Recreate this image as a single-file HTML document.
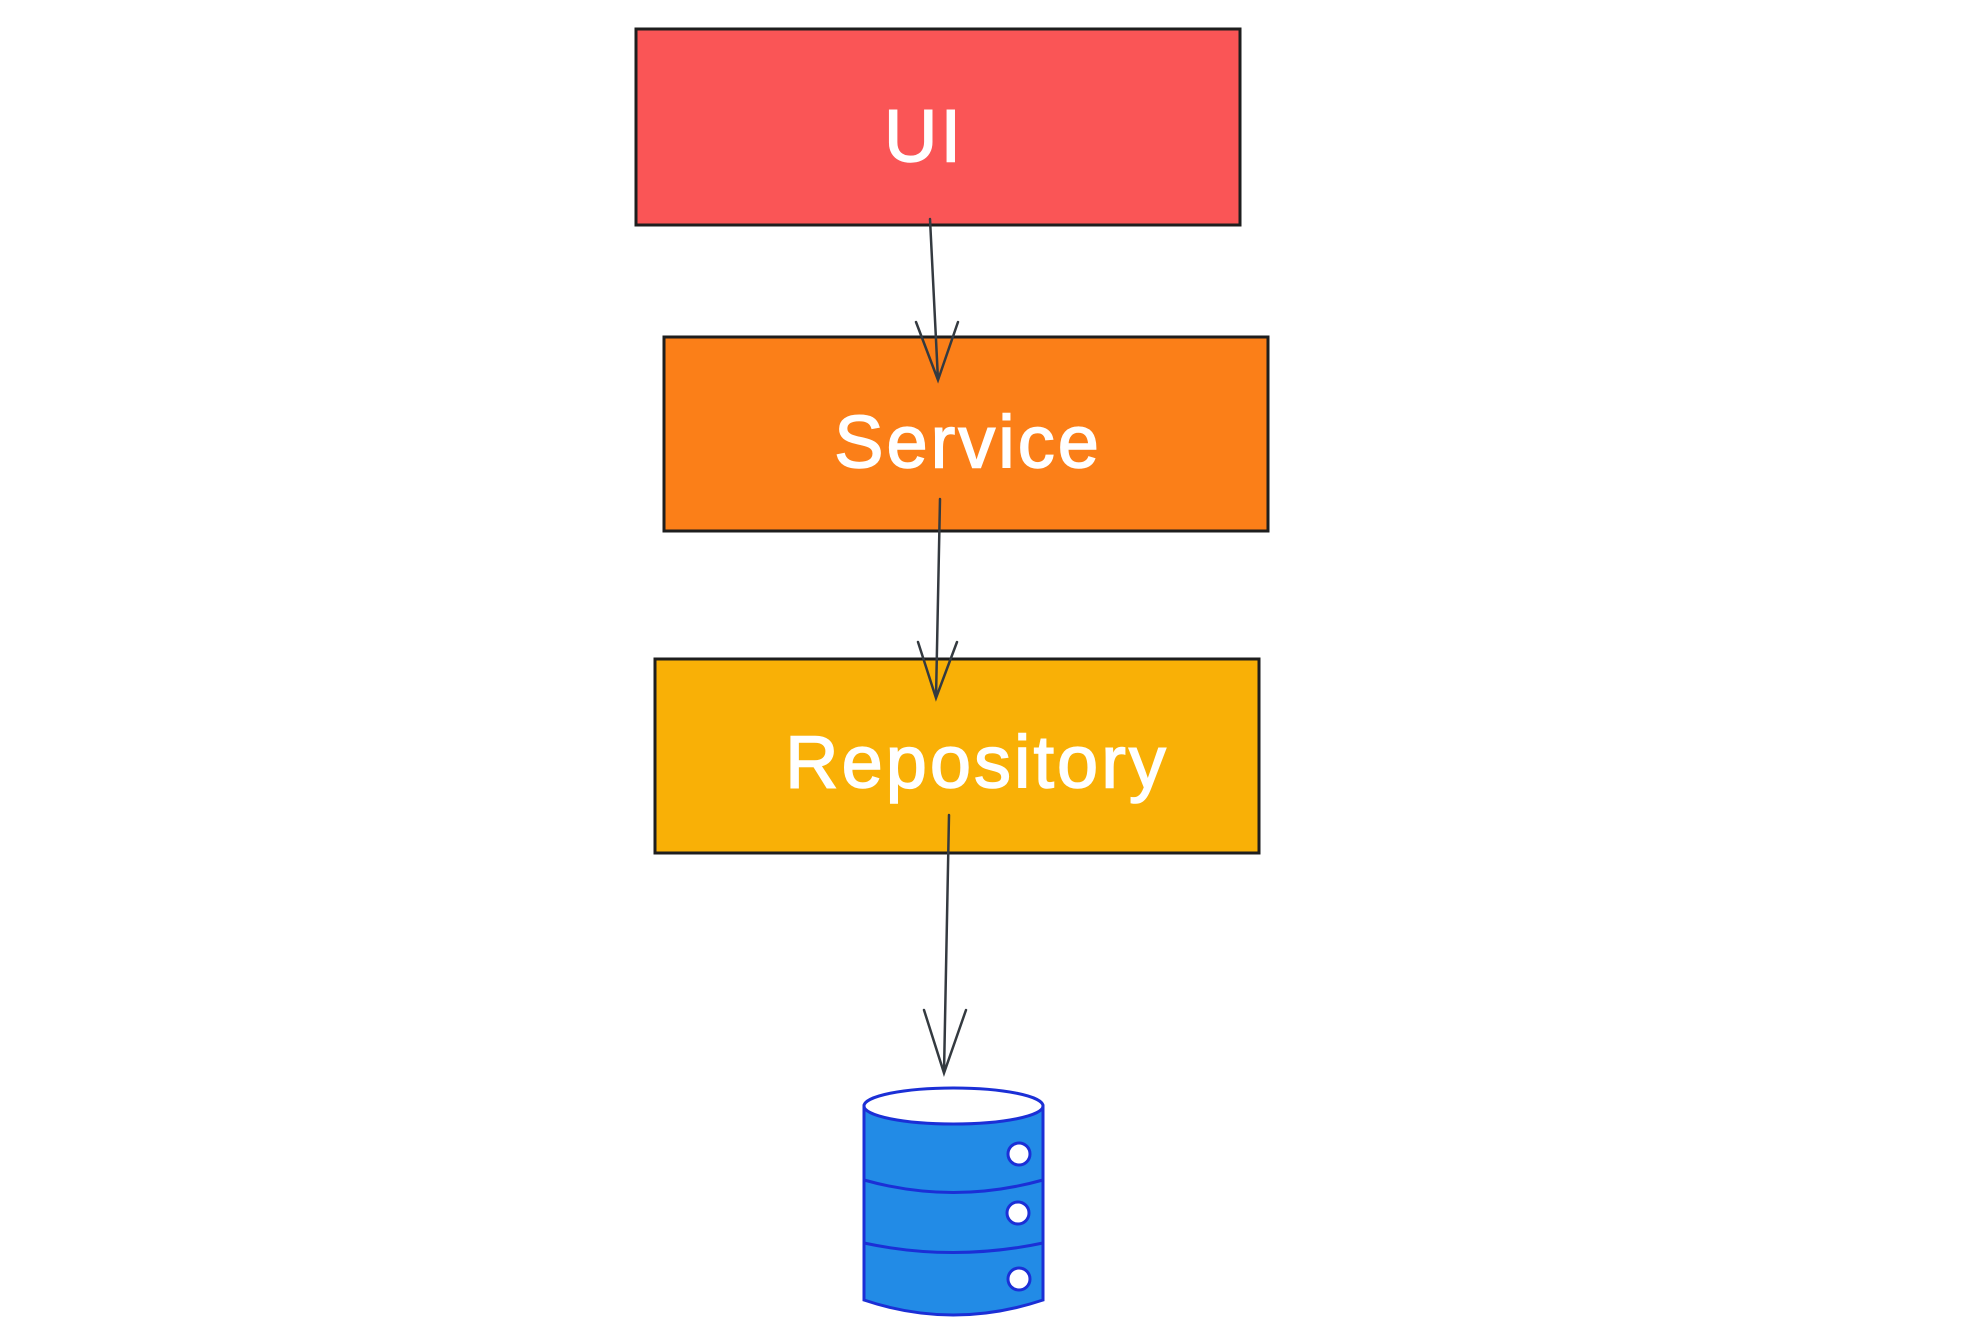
<!DOCTYPE html>
<html><head><meta charset="utf-8"><style>
html,body{margin:0;padding:0;background:#fff;width:1988px;height:1340px;overflow:hidden}
text{font-family:"Liberation Sans",sans-serif;fill:#fff;stroke:#fff;stroke-width:1.5;letter-spacing:3px;text-anchor:middle;dominant-baseline:central}
</style></head><body>
<svg width="1988" height="1340" viewBox="0 0 1988 1340" xmlns="http://www.w3.org/2000/svg">
<g stroke="#1e1e1e" stroke-width="3" fill-rule="nonzero">
<rect x="636" y="29" width="604" height="196" fill="#fa5556"/>
<rect x="664" y="337" width="604" height="194" fill="#fb7f18"/>
<rect x="655" y="659" width="604" height="194" fill="#f9b006"/>
</g>
<text x="924" y="136" font-size="74">UI</text>
<text x="968" y="442" font-size="74">Service</text>
<text x="977" y="762" font-size="74">Repository</text>
<g stroke="#343a40" stroke-width="2.5" fill="none" stroke-linecap="round">
<path d="M930 219 L938 380 M916 322 L938 380 L958 322"/>
<path d="M940 499 L936 698 M918 642 L936 698 L957 642"/>
<path d="M949 815 L944 1073 M924 1010 L944 1073 L966 1010"/>
</g>
<g stroke="#1b2fd6" stroke-width="3" fill="#228be6">
<path d="M864 1106 L864 1300 Q953 1330 1043 1300 L1043 1106 Z"/>
<path d="M864 1180 Q953 1205 1043 1180" fill="none"/>
<path d="M864 1243 Q953 1262 1043 1243" fill="none"/>
<ellipse cx="953.5" cy="1106" rx="89.5" ry="18" fill="#fff"/>
<circle cx="1019" cy="1154" r="11" fill="#fff"/>
<circle cx="1018" cy="1213" r="11" fill="#fff"/>
<circle cx="1019" cy="1279" r="11" fill="#fff"/>
</g>
</svg>
</body></html>
